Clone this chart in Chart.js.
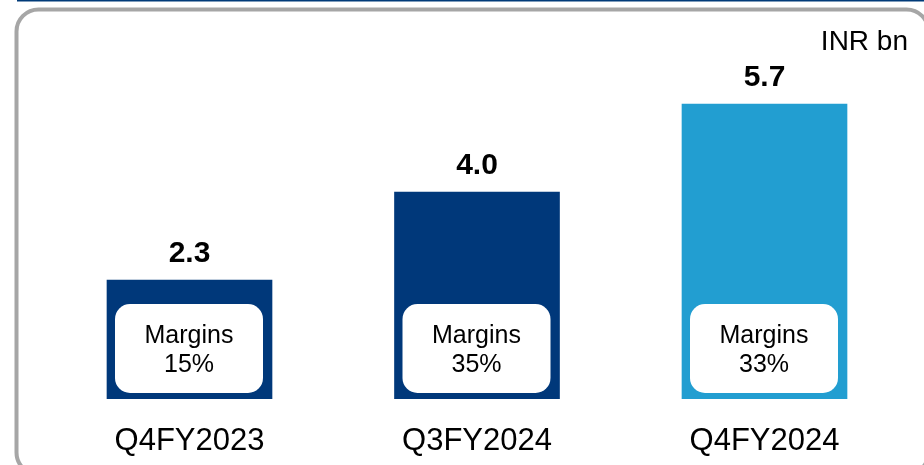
<!DOCTYPE html>
<html>
<head>
<meta charset="utf-8">
<script src="https://cdn.jsdelivr.net/npm/chart.js@4"></script>
<style>
  html, body { margin: 0; padding: 0; background: #fff; }
  #wrap { width: 924px; height: 465px; position: relative; }
</style>
</head>
<body>
<div id="wrap"><canvas id="revenue-chart" width="924" height="465"></canvas></div>
<script>
const categories = ['Q4FY2023', 'Q3FY2024', 'Q4FY2024'];
const revenue = [2.3, 4.0, 5.7];
const margins = ['15%', '35%', '33%'];
const unitLabel = 'INR bn';

const FONT = "'Liberation Sans', Arial, sans-serif";
const barColors = ['#00387a', '#00387a', '#229ed1'];

// frame, unit text, value labels and the white margin boxes
const decorations = {
    id: 'decorations',
    beforeDraw(chart) {
        const ctx = chart.ctx;
        ctx.save();
        ctx.fillStyle = '#003a78';
        ctx.fillRect(17, 0, 907, 1.5);
        ctx.strokeStyle = '#a6a6a6';
        ctx.lineWidth = 4;
        ctx.beginPath();
        ctx.roundRect(16.5, 9.5, 912, 465, 22);
        ctx.stroke();
        ctx.restore();
    },
    afterDatasetsDraw(chart) {
        const ctx = chart.ctx;
        const meta = chart.getDatasetMeta(0);
        ctx.save();
        ctx.textAlign = 'right';
        ctx.textBaseline = 'middle';
        ctx.fillStyle = '#000';
        ctx.font = '28px ' + FONT;
        ctx.fillText(unitLabel, 908, 42);

        meta.data.forEach((bar, i) => {
            const left = bar.x - bar.width / 2;
            // value on top
            ctx.textAlign = 'center';
            ctx.font = 'bold 30px ' + FONT;
            ctx.fillStyle = '#000';
            ctx.fillText(revenue[i].toFixed(1), bar.x, bar.y - 26);

            // margin box
            const bx = left + 8, bw = bar.width - 17;
            const by = bar.base - 95, bh = 89;
            ctx.fillStyle = '#fff';
            ctx.beginPath();
            ctx.roundRect(bx, by, bw, bh, 15);
            ctx.fill();
            ctx.fillStyle = '#000';
            ctx.font = '25px ' + FONT;
            const cy = by + bh / 2;
            ctx.fillText('Margins', bx + bw / 2, cy - 12);
            ctx.fillText(margins[i], bx + bw / 2, cy + 17);
        });
        ctx.restore();
    }
};

new Chart(document.getElementById('revenue-chart'), {
    type: 'bar',
    data: {
        labels: categories,
        datasets: [{
            data: revenue,
            backgroundColor: barColors,
            borderWidth: 0,
            barThickness: 165
        }]
    },
    options: {
        responsive: false,
        animation: false,
        devicePixelRatio: 1,
        layout: {
            padding: { left: 45.75, right: 15.75, top: 0, bottom: 5 }
        },
        scales: {
            x: {
                grid: { display: false, drawTicks: false },
                border: { display: false },
                afterFit(scale) { scale.height = 61; },
                ticks: {
                    color: '#000',
                    padding: 24,
                    maxRotation: 0,
                    font: { size: 31, family: FONT }
                }
            },
            y: {
                display: false,
                min: 0,
                max: 7.71
            }
        },
        plugins: {
            legend: { display: false },
            title: { display: false },
            tooltip: { enabled: false }
        }
    },
    plugins: [decorations]
});
</script>
</body>
</html>
